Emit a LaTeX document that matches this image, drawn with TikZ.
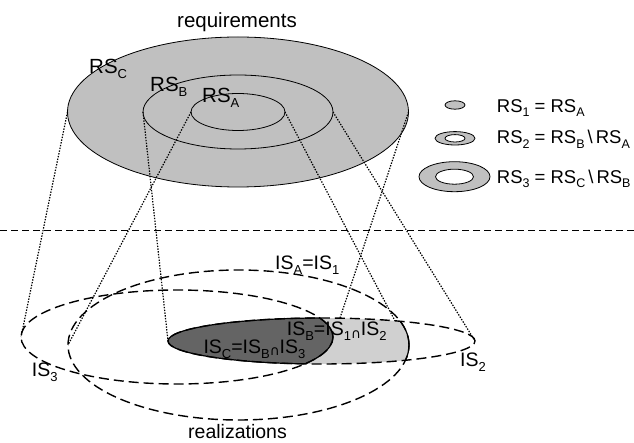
\documentclass[tikz,border=0pt]{standalone}
\usepackage{fontspec}
\setmainfont{Liberation Sans}
\newfontfamily\symfont{DejaVu Sans}
\usetikzlibrary{calc}

% subscripts in the label fonts
\newcommand{\lsub}[1]{\raisebox{-5pt}{\fontsize{13}{13}\selectfont #1}}
\newcommand{\ssub}[1]{\raisebox{-4.5pt}{\fontsize{12.5}{12.5}\selectfont #1}}
\newcommand{\lcap}{\raisebox{-2.5pt}{\symfont\fontsize{13.5}{13.5}\selectfont ∩}}
\newcommand{\setminusb}{\hspace{3pt}\textbackslash\hspace{3pt}}

% outlines of the realization sets
\newcommand{\ISonePath}{(238.5,345) ellipse [x radius=170.5pt, y radius=75pt]}
\newcommand{\IStwoPath}{(321.5,341) ellipse [x radius=153.5pt, y radius=23pt]}
\newcommand{\ISthreePath}{(177,337) ellipse [x radius=156pt, y radius=47pt]}

\tikzset{
  rsline/.style={line width=0.8pt},
  isdash/.style={line width=1.4pt, dash pattern=on 10pt off 5pt},
  isedge/.style={line width=1.2pt},
  proj/.style={line width=1.2pt, dash pattern=on 1.4pt off 1.4pt},
  sepline/.style={line width=0.9pt, dash pattern=on 7pt off 4pt},
  lbl/.style={inner sep=0pt, font=\fontsize{19.5}{20}\selectfont},
  leglbl/.style={inner sep=0pt, font=\fontsize{18.5}{19}\selectfont},
  toplbl/.style={inner sep=0pt, font=\fontsize{20.5}{21}\selectfont},
}
\definecolor{rsgrey}{HTML}{C0C0C0}
\definecolor{isblight}{HTML}{D0D0D0}
\definecolor{iscdark}{HTML}{646464}

\begin{document}
\begin{tikzpicture}[x=1pt,y=-1pt]
\useasboundingbox (0,0) rectangle (634,443);

% ---------- requirement sets ----------
\coordinate (RSc) at (238,112);
\fill[rsgrey] (RSc) ellipse [x radius=170.5pt, y radius=75pt];
\draw[rsline] (RSc) ellipse [x radius=170.5pt, y radius=75pt];
\draw[rsline] (RSc) ellipse [x radius=95pt, y radius=37pt];
\draw[rsline] (RSc) ellipse [x radius=47pt, y radius=18.5pt];

\coordinate (RSCw) at ($(RSc)+(-170.5,0)$);
\coordinate (RSCe) at ($(RSc)+(170.5,0)$);
\coordinate (RSBw) at ($(RSc)+(-95,0)$);
\coordinate (RSBe) at ($(RSc)+(95,0)$);
\coordinate (RSAw) at ($(RSc)+(-47,0)$);
\coordinate (RSAe) at ($(RSc)+(47,0)$);

\node[toplbl, anchor=base] (req) at (237,27.5) {requirements};
\node[toplbl, anchor=base west] (lRSC) at (89,73.3) {RS\lsub{C}};
\node[toplbl, anchor=base west] (lRSB) at (150,91.7) {RS\lsub{B}};
\node[toplbl, anchor=base west] (lRSA) at (202,102.7) {RS\lsub{A}};

% ---------- legend ----------
\filldraw[fill=rsgrey, rsline] (455,105) ellipse [x radius=10pt, y radius=4.2pt];
\filldraw[fill=rsgrey, rsline] (455,138.3) ellipse [x radius=20pt, y radius=6.7pt];
\filldraw[fill=white, rsline] (455,138.3) ellipse [x radius=10pt, y radius=3.7pt];
\filldraw[fill=rsgrey, rsline] (454.5,176.7) ellipse [x radius=35.5pt, y radius=15pt];
\filldraw[fill=white, rsline] (454.5,176.7) ellipse [x radius=19pt, y radius=7.5pt];

\node[leglbl, anchor=base west] (leg1) at (496.7,112.3) {RS\ssub{1} = RS\ssub{A}};
\node[leglbl, anchor=base west] (leg2) at (496.7,144) {RS\ssub{2} = RS\ssub{B}\setminusb RS\ssub{A}};
\node[leglbl, anchor=base west] (leg3) at (496.7,183.3) {RS\ssub{3} = RS\ssub{C}\setminusb RS\ssub{B}};

% ---------- separator ----------
\coordinate (sepL) at (0,230);
\coordinate (sepR) at (634,230);
\draw[sepline] (sepL) -- (sepR);

% ---------- realization sets ----------
% IS_B = IS_1 cap IS_2
\begin{scope}
  \clip \ISonePath;
  \fill[isblight] \IStwoPath;
\end{scope}
% IS_C = IS_B cap IS_3
\begin{scope}
  \clip \ISonePath;
  \clip \IStwoPath;
  \fill[iscdark] \ISthreePath;
\end{scope}
% solid borders of the shaded regions
\begin{scope}
  \clip \IStwoPath;
  \draw[isedge] \ISonePath;
  \draw[isedge] \ISthreePath;
\end{scope}
\begin{scope}
  \clip \ISthreePath;
  \draw[isedge] \IStwoPath;
\end{scope}

\draw[isdash] \ISonePath;
\draw[isdash] \IStwoPath;
\draw[isdash] \ISthreePath;

\coordinate (IS1w) at (68,345);
\coordinate (IS2w) at (168,341);
\coordinate (IS2e) at (475,341);
\coordinate (IS2t) at ($(321.5,341)+(83.1:153.5pt and 23pt)$);
\coordinate (IS2u) at ($(321.5,341)+(61.4:153.5pt and 23pt)$);
\coordinate (IS3w) at (21,337);

% ---------- projections ----------
\draw[proj] (RSCw) -- (IS3w);
\draw[proj] (RSBw) -- (IS2w);
\draw[proj] (RSAw) -- (IS1w);
\draw[proj] (RSAe) -- (IS2u);
\draw[proj] (RSBe) -- (IS2e);
\draw[proj] (RSCe) -- (IS2t);

% ---------- labels ----------
\node[lbl, anchor=base west] (lIS1) at (275,270) {IS\lsub{A}=IS\lsub{1}};
\node[lbl, anchor=base west] (lISB) at (286.7,335.8) {IS\lsub{B}=IS\lsub{1}\lcap IS\lsub{2}};
\node[lbl, anchor=base west] (lISC) at (203.3,353) {IS\lsub{C}=IS\lsub{B}\lcap IS\lsub{3}};
\node[lbl, anchor=base west] (lIS2) at (460,366.7) {IS\lsub{2}};
\node[lbl, anchor=base west] (lIS3) at (31.7,376) {IS\lsub{3}};
\node[lbl, anchor=base] (real) at (237.5,438.5) {realizations};
\end{tikzpicture}
\end{document}
